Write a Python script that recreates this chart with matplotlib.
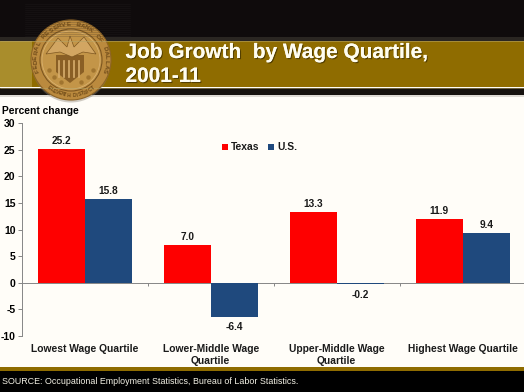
import numpy as np
import matplotlib
matplotlib.use('Agg')
import matplotlib.pyplot as plt
from matplotlib.patches import Circle, Rectangle, Polygon
import matplotlib.patheffects as pe

categories = ['Lowest Wage Quartile', 'Lower-Middle Wage\nQuartile',
              'Upper-Middle Wage\nQuartile', 'Highest Wage Quartile']
texas = [25.2, 7.0, 13.3, 11.9]
us = [15.8, -6.4, -0.2, 9.4]
yticks = [-10, -5, 0, 5, 10, 15, 20, 25, 30]
title = 'Job Growth  by Wage Quartile,\n2001-11'
source = 'SOURCE: Occupational Employment Statistics, Bureau of Labor Statistics.'
seal_text = 'FEDERAL RESERVE BANK OF DALLAS'
seal_bottom = 'ELEVENTH DISTRICT'

W, H = 524, 392
BG = '#fffdf8'
plt.rcParams['font.family'] = ['Liberation Sans', 'DejaVu Sans']
plt.rcParams['axes.unicode_minus'] = False

fig = plt.figure(figsize=(W / 100, H / 100), dpi=100, facecolor=BG)

# page furniture in pixel coordinates
bg = fig.add_axes([0, 0, 1, 1])
bg.set_xlim(0, W)
bg.set_ylim(H, 0)
bg.axis('off')
bg.add_patch(Rectangle((0, 0), W, 37, color='#0f0b0c', lw=0))
for y in np.arange(4, 37, 2):
    bg.plot([25, 130], [y, y], color='#2a2829', lw=0.4, alpha=0.35)
bg.add_patch(Rectangle((0, 37), W, 4, color='#2a2622', lw=0))
bg.add_patch(Rectangle((0, 41), W, 46, color='#8f6c00', lw=0))
bg.add_patch(Rectangle((0, 41), 32, 46, color='#a98d2c', lw=0))
bg.plot([0, W], [41, 41], color='#b5a468', lw=0.4)
bg.plot([0, W], [87.5, 87.5], color='#b5a468', lw=0.4)
bg.add_patch(Rectangle((0, 88), W, 7, color='#16120f', lw=0))
bg.add_patch(Rectangle((0, 95), W, 2, color='#dedbd5', lw=0))
bg.add_patch(Rectangle((0, 367), W, 4, color='#8f6c00', lw=0))
bg.add_patch(Rectangle((0, 371), W, 21, color='#000000', lw=0))

# seal
cx, cy = 71, 60
bg.add_patch(Circle((cx, cy + 3), 39.5, color='#8a8274', lw=0, alpha=0.4))
bg.add_patch(Circle((cx, cy), 40, color='#bb8a3e', ec='#8e6426', lw=0.8))
bg.add_patch(Circle((cx, cy), 31, color='#c39548', ec='#7d5620', lw=0.8))
bg.add_patch(Circle((cx, cy), 29, fill=False, ec='#dcb474', lw=0.5))
bg.add_patch(Polygon([(56, 55), (84, 55), (84, 72), (70, 83), (56, 72)],
                     color='#8a5f25', lw=0))
for x in np.arange(59, 84, 5):
    bg.plot([x, x], [61, 77], color='#d8ae6c', lw=1.2)
bg.add_patch(Polygon([(46, 54), (58, 38), (67, 47), (70, 36), (74, 47), (84, 37),
                      (96, 54), (83, 52), (72, 57), (60, 52)], color='#d2a662', ec='#7d5620', lw=0.5))
for ang in [205, 225, 245, 295, 315, 335]:
    a = np.radians(ang)
    bg.plot(cx + 24 * np.cos(a), cy - 24 * np.sin(a), 'o', ms=3.2, color='#a0742f', mew=0)
for i, ch in enumerate(seal_text):
    a = np.radians(198 - i * (216 / (len(seal_text) - 1)))
    bg.text(cx + 35.5 * np.cos(a), cy - 35.5 * np.sin(a), ch, fontsize=4.6, color='#6e4a18',
            ha='center', va='center', rotation=np.degrees(a) - 90, fontweight='bold')
for i, ch in enumerate(seal_bottom):
    a = np.radians(232 + i * (76 / (len(seal_bottom) - 1)))
    bg.text(cx + 35.5 * np.cos(a), cy - 35.5 * np.sin(a), ch, fontsize=3.6, color='#6e4a18',
            ha='center', va='center', rotation=np.degrees(a) + 90, fontweight='bold')

bg.text(125.5, 64.5, title, fontsize=15.0, fontweight='bold', color='#fffdf0', ha='left', va='center',
        linespacing=1.33,
        path_effects=[pe.withSimplePatchShadow(offset=(0.8, -0.8), shadow_rgbFace='#3a2c00', alpha=0.7),
                      pe.Normal()])
bg.text(2, 381.5, source, fontsize=6.4, color='#f4f2e6', ha='left', va='center')
bg.text(2, 110.5, 'Percent change', fontsize=7.4, fontweight='bold', color='black', ha='left', va='center')

# chart
ax = fig.add_axes([21.7 / W, 1 - 335.7 / H, 504 / W, (335.7 - 123.3) / H])
ax.patch.set_alpha(0)
x = np.arange(len(categories))
w = 0.373
ax.bar(x - w / 2, texas, w, color='#fe0000', zorder=3)
ax.bar(x + w / 2, us, w, color='#1f497d', zorder=3)
for i in x:
    ax.text(i - w / 2, texas[i] + 0.6, '%.1f' % texas[i], ha='center', va='bottom',
            fontsize=7.3, fontweight='bold', color='#1a1a1a')
    if us[i] < 0:
        ax.text(i + w / 2, us[i] - 1.1, '%.1f' % us[i], ha='center', va='top',
                fontsize=7.3, fontweight='bold', color='#1a1a1a')
    else:
        ax.text(i + w / 2, us[i] + 0.6, '%.1f' % us[i], ha='center', va='bottom',
                fontsize=7.3, fontweight='bold', color='#1a1a1a')

ax.set_xlim(-0.5, 3.5)
ax.set_ylim(-10, 30)
ax.set_yticks(yticks)
ax.tick_params(axis='y', labelsize=7.5, length=3, width=0.7, color='#868686', pad=1.5)
for lab in ax.get_yticklabels():
    lab.set_fontweight('bold')
ax.set_xticks([0.5, 1.5, 2.5])
ax.set_xticklabels([])
ax.tick_params(axis='x', direction='out', length=2.5, width=0.7, color='#868686')
ax.spines['top'].set_visible(False)
ax.spines['right'].set_visible(False)
ax.spines['bottom'].set_position(('data', 0))
ax.spines['bottom'].set_color('#868686')
ax.spines['left'].set_color('#868686')
ax.spines['bottom'].set_linewidth(0.7)
ax.spines['left'].set_linewidth(0.7)
ax.spines['bottom'].set_zorder(2)

for i, c in enumerate(categories):
    ax.text(i, -11.5, c, ha='center', va='top', fontsize=7.35, fontweight='bold',
            color='#1a1a1a', linespacing=1.33, clip_on=False)

# legend
bg.add_patch(Rectangle((222, 143.5), 6, 6, color='#fe0000', lw=0))
bg.text(231, 146.5, 'Texas', fontsize=7.4, fontweight='bold', ha='left', va='center', color='#1a1a1a')
bg.add_patch(Rectangle((268, 143.5), 6, 6, color='#1f497d', lw=0))
bg.text(277, 146.5, 'U.S.', fontsize=7.4, fontweight='bold', ha='left', va='center', color='#1a1a1a')

fig.savefig('out.png', dpi=100, facecolor=BG)
